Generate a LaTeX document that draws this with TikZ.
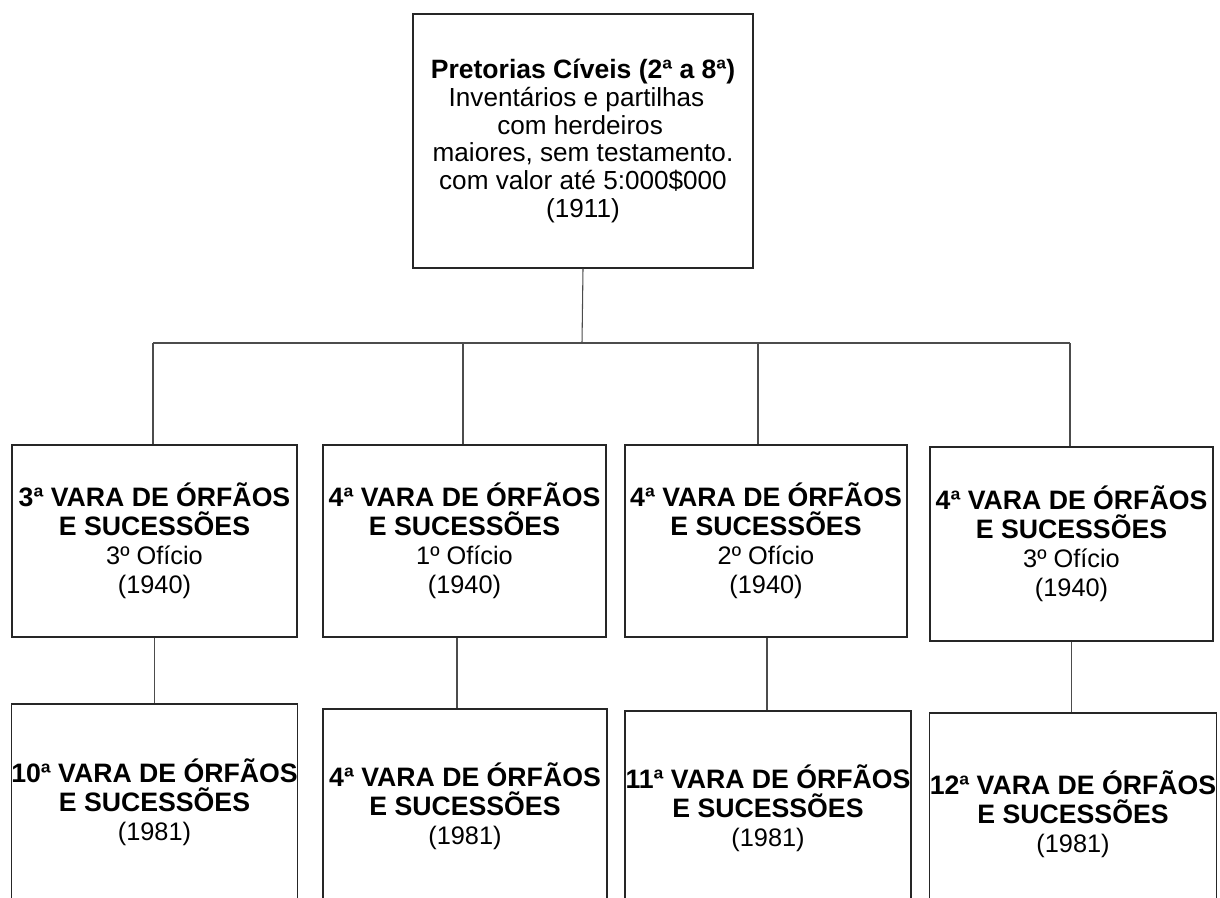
\documentclass[tikz,border=0pt]{standalone}
\usepackage{fontspec}
\setmainfont{Liberation Sans}
\newcommand{\varatit}[1]{{\bfseries\fontsize{20}{21.8}\selectfont #1}}
\tikzset{
  box/.style={draw=black!85,line width=0.9pt,align=center,inner sep=0pt,font=\fontsize{19}{21.8}\selectfont},
  link/.style={draw=black!70,line width=0.8pt}
}
\begin{document}
\begin{tikzpicture}[x=0.75pt,y=-0.75pt]
	\useasboundingbox (0,0) rectangle (1220,897);
	% top level
	\node[box,minimum width=255pt,minimum height=190.5pt,font=\fontsize{19.6}{20.9}\selectfont] (pret) at (583,141)
		{{\bfseries\fontsize{19.9}{20.9}\selectfont Pretorias Cíveis (2ª a 8ª)}\\Inventários e partilhas\phantom{x}\\com herdeiros\phantom{i}\\maiores, sem testamento.\\com valor até 5:000\$000\\(1911)};
	% 1940
	\node[box,minimum width=213.75pt,minimum height=144pt] (vara3) at (154.5,541)
		{\varatit{3ª VARA DE ÓRFÃOS}\\\varatit{E SUCESSÕES}\\3º Ofício\\(1940)};
	\node[box,minimum width=212.25pt,minimum height=144pt] (vara4a) at (464.5,541)
		{\varatit{4ª VARA DE ÓRFÃOS}\\\varatit{E SUCESSÕES}\\1º Ofício\\(1940)};
	\node[box,minimum width=211.5pt,minimum height=144pt] (vara4b) at (766,541)
		{\varatit{4ª VARA DE ÓRFÃOS}\\\varatit{E SUCESSÕES}\\2º Ofício\\(1940)};
	\node[box,minimum width=212.25pt,minimum height=145.5pt] (vara4c) at (1071.5,544)
		{\varatit{4ª VARA DE ÓRFÃOS}\\\varatit{E SUCESSÕES}\\3º Ofício\\(1940)};
	% 1981
	\node[box,minimum width=213.75pt,minimum height=147pt] (vara10) at (154.5,802)
		{\varatit{10ª VARA DE ÓRFÃOS}\\\varatit{E SUCESSÕES}\\(1981)};
	\node[box,minimum width=213pt,minimum height=145.5pt] (vara4) at (465,806)
		{\varatit{4ª VARA DE ÓRFÃOS}\\\varatit{E SUCESSÕES}\\(1981)};
	\node[box,minimum width=214.5pt,minimum height=145.5pt] (vara11) at (768,808)
		{\varatit{11ª VARA DE ÓRFÃOS}\\\varatit{E SUCESSÕES}\\(1981)};
	\node[box,minimum width=214.5pt,minimum height=151.5pt] (vara12) at (1073,814)
		{\varatit{12ª VARA DE ÓRFÃOS}\\\varatit{E SUCESSÕES}\\(1981)};
	% connectors
	\coordinate (bus) at (582,343);
	\coordinate (busA) at (153,343);
	\coordinate (busB) at (463,343);
	\coordinate (busC) at (758,343);
	\coordinate (busD) at (1070,343);
	\coordinate (colB) at (457,0);
	\coordinate (colC) at (767,0);
	\draw[link] (pret.south) -- (bus);
	\draw[link] (busA) -- (busD);
	\draw[link] (busA) -- (busA |- vara3.north);
	\draw[link] (busB) -- (busB |- vara4a.north);
	\draw[link] (busC) -- (busC |- vara4b.north);
	\draw[link] (busD) -- (busD |- vara4c.north);
	\draw[link] (vara3.south) -- (vara3.south |- vara10.north);
	\draw[link] (colB |- vara4a.south) -- (colB |- vara4.north);
	\draw[link] (colC |- vara4b.south) -- (colC |- vara11.north);
	\draw[link] (vara4c.south) -- (vara4c.south |- vara12.north);
\end{tikzpicture}
\end{document}
